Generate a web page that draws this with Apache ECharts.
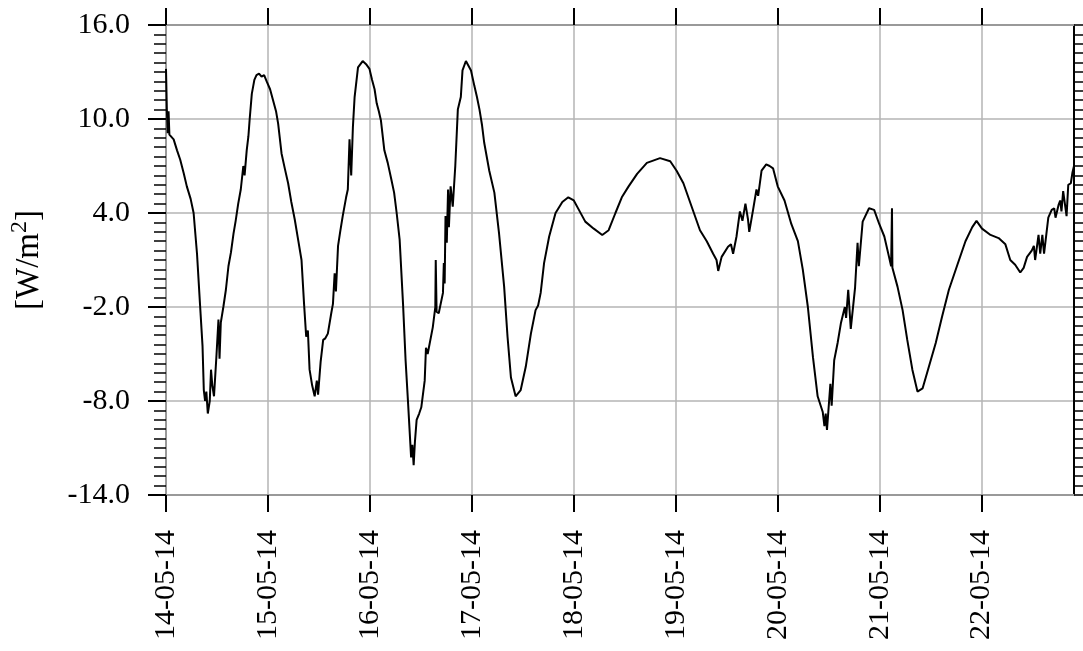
<!DOCTYPE html>
<html>
<head>
<meta charset="utf-8">
<script src="https://cdn.jsdelivr.net/npm/echarts@6/dist/echarts.min.js"></script>
<style>
html,body{margin:0;padding:0;background:#fff;}
#chart{width:1083px;height:651px;}
</style>
</head>
<body>
<div id="chart"></div>
<script>
// Day labels (ticks every 24 h starting 14-05-14 00:00)
const dayLabels = ['14-05-14','15-05-14','16-05-14','17-05-14','18-05-14','19-05-14','20-05-14','21-05-14','22-05-14'];
// Hours since 14-05-14 00:00
const hours = [
0,0.2,0.4,0.6,0.8,1.8,2.6,3.35,4.2,4.9,5.8,6.5,7.3,8.0,8.6,8.9,9.2,9.5,9.84,10.3,10.6,10.9,11.3,11.9,12.35,12.6,12.9,13.5,14.1,14.7,15.3,15.9,16.4,17.0,17.6,18.2,18.5,19.0,19.4,19.7,20.2,20.8,21.3,21.9,22.5,23.1,23.7,
24.5,25.2,25.9,26.4,27.2,28.0,28.75,29.5,30.3,31.1,31.9,32.5,33.0,33.4,33.8,34.4,35.0,35.5,35.8,36.4,37.0,37.5,38.1,38.9,39.3,39.7,40.0,40.5,41.0,41.6,42.4,42.8,43.2,43.6,44.0,44.4,45.2,46.3,47.1,47.9,
48.5,49.1,49.6,50.1,50.6,51.4,52.2,53.0,53.7,54.3,55.0,55.8,56.4,57.0,57.7,58.0,58.3,58.6,59.0,59.6,60.1,60.9,61.2,61.6,62.0,62.8,63.4,63.5,63.7,64.2,65.2,65.4,65.6,65.8,66.1,66.4,66.6,67.0,67.5,68.1,68.7,69.4,69.8,70.6,71.2,71.8,
72.6,73.2,73.8,74.4,74.9,76.1,77.3,78.4,79.6,80.4,81.2,82.3,83.5,84.7,85.9,87.0,87.6,88.2,89.0,90.2,91.7,93.3,94.7,
96.0,97.2,98.7,100.7,102.7,104.2,105.8,107.3,108.9,110.9,113.2,116.3,118.7,
120.2,121.8,123.75,125.7,127.3,128.8,129.6,130.0,130.8,132.3,133.0,133.5,134.3,135.1,135.7,136.4,137.0,137.3,138.2,139.0,139.4,140.2,141.3,142.1,142.9,
144.0,145.6,147.2,148.75,149.9,151.1,152.3,153.4,154.6,155.0,155.3,155.6,156.4,156.7,157.3,158.1,158.9,159.8,160.1,160.6,161.2,162.2,162.8,163.1,164.0,165.5,166.7,
167.9,169.1,170.2,170.7,170.9,171.0,172.2,173.4,174.5,175.7,176.9,178.1,179.6,181.2,182.7,184.3,186.3,188.2,189.8,190.8,
192.1,194.1,196.0,197.6,198.75,199.9,201.1,201.9,202.7,203.8,204.3,204.6,205.4,205.8,206.3,206.7,207.7,208.5,209.1,209.4,210.1,210.5,210.8,211.2,212.0,212.4,213.0,213.4,213.75
];
// Flux values [W/m2]
const flux = [
13.2,10.6,9.1,10.5,9.0,8.7,8.0,7.4,6.5,5.7,4.9,4.0,1.4,-1.8,-4.5,-7.3,-8.0,-7.4,-8.8,-8.0,-6.0,-7.0,-7.7,-5.0,-2.8,-5.3,-3.0,-2.0,-0.9,0.6,1.5,2.7,3.5,4.6,5.5,7.0,6.4,8.0,8.9,10.0,11.6,12.5,12.8,12.9,12.7,12.8,12.4,
11.9,11.2,10.5,9.7,7.8,6.8,5.9,4.7,3.6,2.3,1.0,-1.8,-3.9,-3.5,-6.0,-7.0,-7.7,-6.7,-7.6,-5.5,-4.1,-4.0,-3.7,-2.4,-1.8,0.15,-1.0,1.9,2.8,3.8,5.0,5.5,8.7,6.4,9.5,11.4,13.3,13.7,13.5,13.2,
12.5,11.9,11.0,10.5,9.9,8.0,7.2,6.2,5.3,4.0,2.3,-1.8,-5.4,-8.2,-11.6,-10.8,-12.1,-10.6,-9.2,-8.8,-8.4,-6.7,-4.6,-5.0,-5.0,-3.3,-2.0,1.0,-2.3,-2.4,-1.1,0.8,-0.5,3.8,2.1,5.5,3.1,5.7,4.4,7.0,10.6,11.4,13.1,13.7,13.4,13.1,
12.1,11.4,10.6,9.6,8.5,6.7,5.3,2.7,-0.7,-3.9,-6.5,-7.7,-7.3,-5.8,-3.7,-2.2,-1.9,-1.1,0.8,2.5,4.0,4.7,5.0,
4.8,4.2,3.45,3.0,2.6,2.9,4.0,5.0,5.7,6.5,7.2,7.5,7.3,
6.7,5.9,4.4,2.9,2.2,1.4,1.0,0.3,1.2,1.85,2.0,1.4,2.5,4.1,3.5,4.6,3.6,2.8,4.2,5.5,5.1,6.7,7.1,7.0,6.85,
5.7,4.8,3.3,2.2,0.4,-2.0,-5.2,-7.7,-8.7,-9.6,-8.8,-9.85,-6.9,-8.3,-5.4,-4.3,-3.0,-2.0,-2.7,-0.9,-3.4,-0.8,2.1,0.6,3.45,4.3,4.2,
3.3,2.5,1.2,0.6,4.3,0.5,-0.7,-2.2,-4.1,-6.0,-7.4,-7.2,-5.8,-4.3,-2.6,-0.9,0.7,2.2,3.1,3.5,
3.0,2.6,2.4,2.0,1.0,0.7,0.2,0.5,1.2,1.6,1.9,1.0,2.6,1.4,2.6,1.4,3.7,4.2,4.3,3.7,4.5,4.8,4.1,5.4,3.8,5.8,5.9,6.6,7.0
];
const yMin = -14, yMax = 16, yStep = 6;
const xMaxHours = 213.75;

const tickHours = dayLabels.map((d, i) => i * 24);
const seriesData = hours.map((h, i) => [h, flux[i]]);

const FONT = '"Liberation Serif", "Times New Roman", Times, serif';
const chart = echarts.init(document.getElementById('chart'), null, {renderer: 'canvas'});
chart.setOption({
  animation: false,
  backgroundColor: '#fff',
  grid: {left: 162, right: 9, top: 25, bottom: 156, containLabel: false},
  xAxis: [
    {
      type: 'value', position: 'bottom', min: 0, max: xMaxHours, interval: 24,
      axisLine: {show: true, onZero: false, lineStyle: {color: '#999', width: 2}},
      axisTick: {show: true, length: 17, customValues: tickHours, lineStyle: {color: '#000', width: 2}},
      axisLabel: {
        show: true, rotate: 90, margin: 35, customValues: tickHours,
        fontFamily: FONT, fontSize: 30, color: '#000',
        formatter: v => dayLabels[Math.round(v / 24)] || ''
      },
      splitLine: {show: true, lineStyle: {color: '#b4b4b4', width: 1.5}}
    },
    {
      type: 'value', position: 'top', min: 0, max: xMaxHours, interval: 24,
      axisLine: {show: true, onZero: false, lineStyle: {color: '#999', width: 2}},
      axisTick: {show: true, length: 17, customValues: tickHours, lineStyle: {color: '#000', width: 2}},
      axisLabel: {show: false},
      splitLine: {show: false}
    }
  ],
  yAxis: [
    {
      type: 'value', position: 'left', min: yMin, max: yMax, interval: yStep,
      axisLine: {show: true, onZero: false, lineStyle: {color: '#999', width: 2}},
      axisTick: {show: true, length: 18, lineStyle: {color: '#000', width: 2}},
      minorTick: {show: true, splitNumber: 10, length: 12, lineStyle: {color: '#000', width: 1.5}},
      axisLabel: {
        margin: 36, fontFamily: FONT, fontSize: 30, color: '#000',
        formatter: v => v.toFixed(1)
      },
      splitLine: {show: true, lineStyle: {color: '#b4b4b4', width: 1.5}},
      name: '{n|[W/m}{s|2}{n|]}',
      nameLocation: 'middle', nameGap: 116, nameRotate: 90,
      nameTextStyle: {
        fontFamily: FONT, fontSize: 33, color: '#000',
        rich: {
          n: {fontFamily: FONT, fontSize: 33, color: '#000'},
          s: {fontFamily: FONT, fontSize: 24, color: '#000', padding: [0, 0, 18, 0]}
        }
      }
    },
    {
      type: 'value', position: 'right', min: yMin, max: yMax, interval: yStep,
      axisLine: {show: true, onZero: false, lineStyle: {color: '#000', width: 2}},
      axisTick: {show: true, length: 9, lineStyle: {color: '#000', width: 1.5}},
      minorTick: {show: true, splitNumber: 10, length: 9, lineStyle: {color: '#000', width: 1.5}},
      axisLabel: {show: false},
      splitLine: {show: false}
    }
  ],
  series: [{
    type: 'line', xAxisIndex: 0, yAxisIndex: 0,
    data: seriesData, showSymbol: false, symbol: 'none',
    lineStyle: {color: '#000', width: 2}, smooth: false
  }]
});
</script>
</body>
</html>
